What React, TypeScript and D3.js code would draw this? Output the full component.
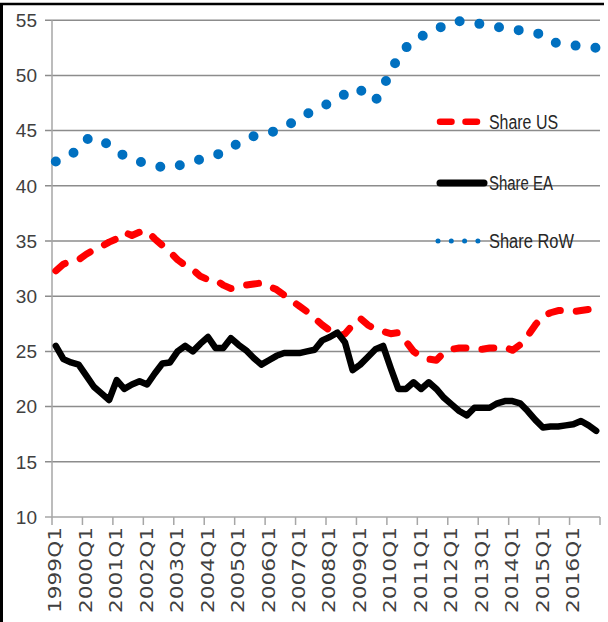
import React from "react";
import * as d3 from "d3";

const years = d3.range(1999, 2017);
const quarters: string[] = years.flatMap((y) => [1, 2, 3, 4].map((q) => `${y}Q${q}`));

const shareUS = [
  32.3, 32.9, 33.2, 33.3, 33.8, 34.2, 34.5, 34.9, 35.2, 35.8, 35.5, 35.8,
  35.9, 35.2, 34.6, 34.0, 33.3, 32.8, 32.4, 31.8, 31.5, 31.5, 31.0, 30.7,
  30.8, 31.0, 31.1, 31.2, 30.9, 30.6, 30.1, 29.6, 29.1, 28.6, 28.0, 27.4,
  26.9, 26.3, 26.6, 27.4, 28.0, 27.4, 27.0, 26.8, 26.6, 26.7, 25.9, 25.0,
  24.5, 24.3, 24.2, 24.9, 25.2, 25.3, 25.3, 25.2, 25.2, 25.3, 25.3, 25.4,
  25.1, 25.6, 26.4, 27.4, 28.2, 28.5, 28.7, 28.7, 28.6, 28.7, 28.8, 28.9,
];

const shareEA = [
  25.5, 24.3, 24.0, 23.8, 22.8, 21.8, 21.2, 20.6, 22.4, 21.6, 22.0, 22.3,
  22.0, 23.0, 23.9, 24.0, 25.0, 25.5, 25.0, 25.7, 26.3, 25.3, 25.3, 26.2,
  25.6, 25.1, 24.4, 23.8, 24.2, 24.6, 24.85, 24.85, 24.85, 25.0, 25.15, 26.0,
  26.3, 26.7, 25.8, 23.3, 23.8, 24.5, 25.2, 25.5, 23.5, 21.6, 21.6, 22.2,
  21.6, 22.2, 21.6, 20.8, 20.2, 19.6, 19.2, 19.9, 19.9, 19.9, 20.3, 20.5,
  20.5, 20.3, 19.6, 18.8, 18.1, 18.2, 18.2, 18.3, 18.4, 18.7, 18.3, 17.8,
];

const shareRoW = [
  42.2, 42.4, 42.8, 43.4, 44.2, 44.4, 44.1, 43.7, 43.2, 42.7, 42.4, 42.2,
  42.0, 41.8, 41.7, 41.6, 41.8, 42.0, 42.2, 42.4, 42.6, 42.8, 43.0, 43.4,
  43.9, 44.3, 44.5, 44.7, 44.8, 45.0, 45.3, 45.7, 46.1, 46.5, 46.9, 47.2,
  47.5, 47.9, 48.3, 48.8, 48.7, 48.0, 47.7, 49.0, 50.3, 51.7, 52.5, 53.2,
  53.5, 53.9, 54.2, 54.5, 54.8, 54.9, 54.9, 54.8, 54.6, 54.5, 54.4, 54.2,
  54.1, 54.1, 54.0, 53.9, 53.6, 53.1, 52.9, 52.8, 52.7, 52.7, 52.6, 52.5,
];

const yTicks = [10, 15, 20, 25, 30, 35, 40, 45, 50, 55];
const xTickLabels = years.map((y) => `${y}Q1`);

const legendItems = [
  { key: "us", label: "Share US" },
  { key: "ea", label: "Share EA" },
  { key: "row", label: "Share RoW" },
];

const W = 608;
const H = 622;
const left = 52;
const right = 600;
const top = 20.2;
const bottom = 517;

export default function App() {
  const x = d3.scaleBand<string>().domain(quarters).range([left, right]).padding(0);
  const bw = x.bandwidth();
  const cx = (i: number) => (x(quarters[i]) as number) + bw / 2;
  const y = d3.scaleLinear().domain([10, 55]).range([bottom, top]);

  const line = d3
    .line<number>()
    .x((_, i) => cx(i))
    .y((d) => y(d))
    .curve(d3.curveLinear);

  const tickBoundaries = d3.range(0, quarters.length + 1, 4).map((i) =>
    i < quarters.length ? (x(quarters[i]) as number) : right
  );

  const legendTextX = 489;
  const legendY = [y(45.8), y(40.25), y(35.0)];

  return (
    <svg
      width={W}
      height={H}
      style={{ position: "absolute", left: 0, top: 0, background: "#fff" }}
    >
      <rect x={0} y={0} width={W} height={H} fill="#fff" />
      {/* frame */}
      <line x1={0} x2={604} y1={4} y2={4} stroke="#000" strokeWidth={2.5} />
      <line x1={1.5} x2={1.5} y1={3} y2={H} stroke="#000" strokeWidth={3} />

      {/* gridlines */}
      {yTicks.map((t) => (
        <line
          key={t}
          x1={45}
          x2={right}
          y1={y(t)}
          y2={y(t)}
          stroke={t === 10 ? "#a6a6a6" : "#8c8c8c"}
          strokeWidth={1.5}
        />
      ))}
      {/* y axis */}
      <line x1={left} x2={left} y1={top} y2={bottom} stroke="#a6a6a6" strokeWidth={1.5} />
      {/* x ticks */}
      {tickBoundaries.map((bx, i) => (
        <line key={i} x1={bx} x2={bx} y1={bottom} y2={bottom + 8} stroke="#a6a6a6" strokeWidth={1.5} />
      ))}

      {/* y tick labels */}
      {yTicks.map((t) => (
        <text
          key={t}
          x={37}
          y={y(t)}
          dy="0.36em"
          textAnchor="end"
          fontFamily="'Liberation Sans Narrow', 'Liberation Sans', sans-serif"
          fontSize={19}
          fill="#404040"
        >
          {t}
        </text>
      ))}

      {/* x tick labels */}
      {xTickLabels.map((lab, k) => (
        <text
          key={lab}
          transform={`translate(${cx(k * 4) - 0.5},527) rotate(-90)`}
          textAnchor="end"
          dy="0.36em"
          fontFamily="'DejaVu Sans', sans-serif"
          fontSize={17}
          fill="#404040"
          textLength={86}
          lengthAdjust="spacingAndGlyphs"
        >
          {lab}
        </text>
      ))}

      {/* legend */}
      <line x1={440} x2={477} y1={legendY[0]} y2={legendY[0]} stroke="#ff0000" strokeWidth={6.5} strokeLinecap="round" strokeDasharray="11.5 14" />
      <line x1={440} x2={484} y1={legendY[1]} y2={legendY[1]} stroke="#000" strokeWidth={7} strokeLinecap="round" />
      <line x1={438} x2={480} y1={legendY[2]} y2={legendY[2]} stroke="#0070c0" strokeWidth={5} strokeLinecap="round" strokeDasharray="0 13.3" />
      {legendItems.map((it, i) => (
        <text
          key={it.key}
          x={legendTextX}
          y={legendY[i]}
          dy="0.36em"
          fontFamily="'Liberation Sans Narrow', 'Liberation Sans', sans-serif"
          fontSize={20}
          fill="#262626"
          textLength={it.key === "row" ? 85 : it.key === "ea" ? 64 : 69}
          lengthAdjust="spacingAndGlyphs"
        >
          {it.label}
        </text>
      ))}

      {/* series */}
      <path d={line(shareRoW) || ""} fill="none" stroke="#0070c0" strokeWidth={10} strokeLinecap="round" strokeDasharray="0 20" />
      <path d={line(shareUS) || ""} fill="none" stroke="#ff0000" strokeWidth={7} strokeLinecap="round" strokeLinejoin="round" strokeDasharray="12 16" />
      <path d={line(shareEA) || ""} fill="none" stroke="#000" strokeWidth={6.5} strokeLinejoin="round" strokeLinecap="round" />
    </svg>
  );
}
